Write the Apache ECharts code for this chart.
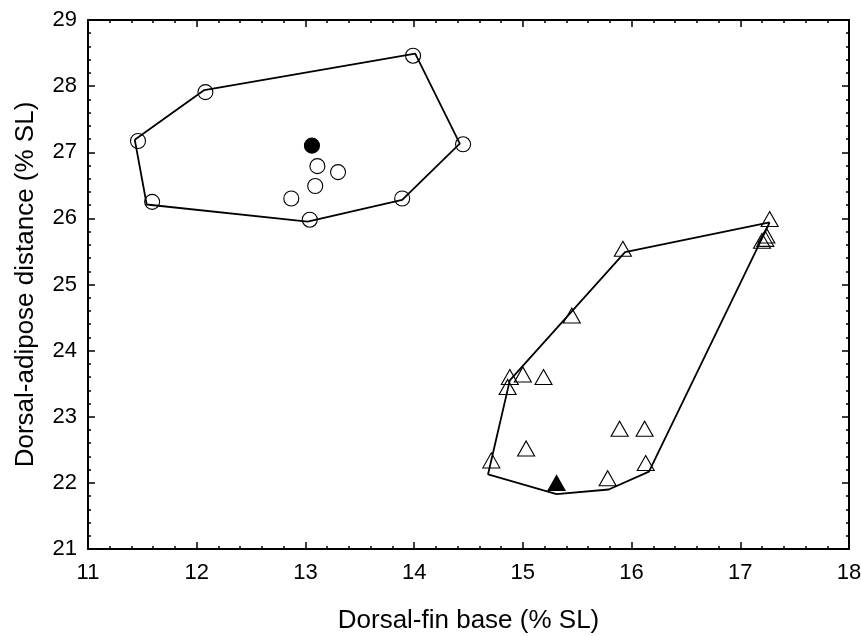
<!DOCTYPE html>
<html>
<head>
<meta charset="utf-8">
<script src="https://cdn.jsdelivr.net/npm/echarts@6/dist/echarts.min.js"></script>
<style>html,body{margin:0;padding:0;background:#fff}#c{width:861px;height:636px}</style>
</head>
<body>
<div id="c"></div>
<script>
// Group A (circles)
const circlesOpen = [
  [11.46, 27.17], [12.08, 27.91], [13.99, 28.46], [14.45, 27.12],
  [13.89, 26.30], [13.04, 25.98], [11.59, 26.25],
  [13.11, 26.79], [13.30, 26.70], [13.09, 26.49], [12.87, 26.30]
];
const circleFilled = [[13.06, 27.10]];
const hullA = [
  [11.43, 27.19], [12.07, 27.94], [14.01, 28.49], [14.42, 27.13],
  [13.89, 26.28], [13.02, 25.95], [11.54, 26.21], [11.43, 27.19]
];
// Group B (triangles)
const trianglesOpen = [
  [17.27, 25.99], [17.23, 25.69], [17.20, 25.66], [17.24, 25.74],
  [15.92, 25.54], [15.45, 24.53], [14.88, 23.60], [14.86, 23.45],
  [15.00, 23.64], [15.19, 23.60], [15.89, 22.82], [16.12, 22.82],
  [15.03, 22.52], [14.71, 22.34], [16.13, 22.30], [15.78, 22.07]
];
const triangleFilled = [[15.31, 22.00]];
const hullB = [
  [17.27, 25.94], [15.94, 25.49], [14.88, 23.55], [14.68, 22.13],
  [15.31, 21.83], [15.79, 21.90], [16.16, 22.17], [17.23, 25.80], [17.27, 25.94]
];
const xTitle = 'Dorsal-fin base (% SL)';
const yTitle = 'Dorsal-adipose distance (% SL)';

const FONT = '"Liberation Sans", Arial, sans-serif';
const axisCommon = {
  type: 'value',
  axisLine: { show: true, onZero: false, lineStyle: { color: '#000', width: 2 } },
  axisTick: { show: true, inside: true, length: 7, lineStyle: { color: '#000', width: 1.5 } },
  minorTick: { show: true, splitNumber: 5, length: 3, lineStyle: { color: '#000', width: 1.5 } },
  splitLine: { show: false },
  minorSplitLine: { show: false }
};
const chart = echarts.init(document.getElementById('c'), null, { renderer: 'canvas' });
const lineSeries = (data) => ({
  type: 'line', data, showSymbol: false, symbol: 'none', silent: true,
  lineStyle: { color: '#000', width: 1.8 }, animation: false, z: 1
});
const scatter = (data, symbol, size, filled) => ({
  type: 'scatter', data, symbol, symbolSize: size, animation: false, z: 2,
  itemStyle: { color: filled ? '#000' : 'rgba(0,0,0,0)', borderColor: '#000', borderWidth: 1.1, opacity: 1 }
});
chart.setOption({
  animation: false,
  backgroundColor: '#fff',
  grid: { left: 88, right: 12, top: 20, bottom: 87, containLabel: false, outerBoundsMode: 'none' },
  xAxis: [
    Object.assign({}, axisCommon, {
      min: 11, max: 18, interval: 1, position: 'bottom',
      name: xTitle, nameLocation: 'middle', nameGap: 59,
      nameTextStyle: { fontFamily: FONT, fontSize: 26, color: '#000' },
      axisLabel: { fontFamily: FONT, fontSize: 22, color: '#000', margin: 13 }
    }),
    Object.assign({}, axisCommon, {
      min: 11, max: 18, interval: 1, position: 'top', axisLabel: { show: false }
    })
  ],
  yAxis: [
    Object.assign({}, axisCommon, {
      min: 21, max: 29, interval: 1, position: 'left',
      name: yTitle, nameLocation: 'middle', nameGap: 49,
      nameTextStyle: { fontFamily: FONT, fontSize: 26, color: '#000' },
      axisLabel: { fontFamily: FONT, fontSize: 22, color: '#000', margin: 11 }
    }),
    Object.assign({}, axisCommon, {
      min: 21, max: 29, interval: 1, position: 'right', axisLabel: { show: false }
    })
  ],
  series: [
    lineSeries(hullA),
    lineSeries(hullB),
    scatter(circlesOpen, 'circle', 15, false),
    scatter(circleFilled, 'circle', 15, true),
    scatter(trianglesOpen, 'triangle', [17, 15], false),
    scatter(triangleFilled, 'triangle', [17, 15], true)
  ]
});
</script>
</body>
</html>
